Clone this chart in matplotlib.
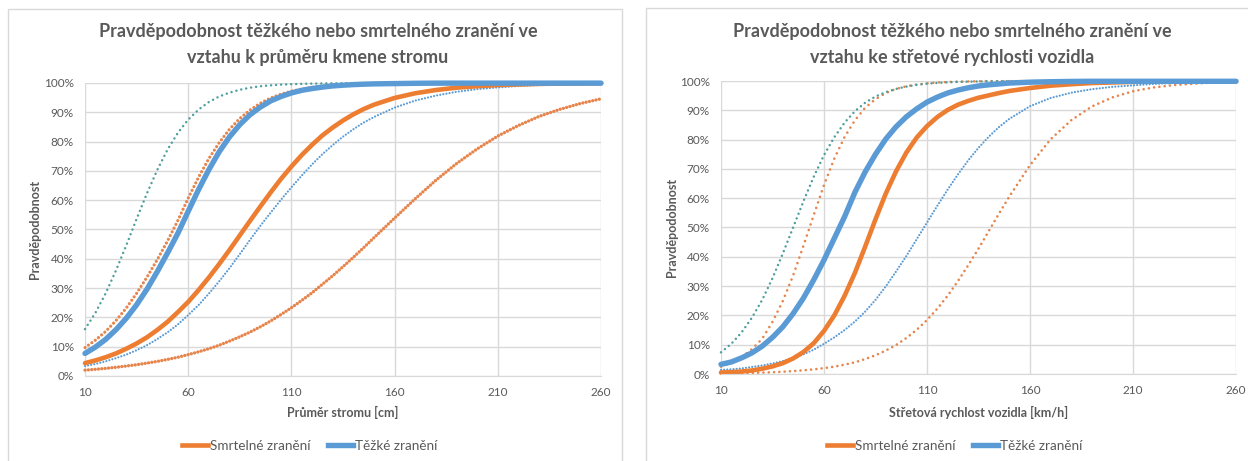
import matplotlib
matplotlib.use("Agg")
import matplotlib.pyplot as plt
from matplotlib.lines import Line2D
from matplotlib.patches import Rectangle
from matplotlib.ticker import FuncFormatter

# ---------------------------------------------------------------- data
# x positions of the sampled points (finer where the curves bend)
diameter_cm = [10, 15, 20, 25, 30, 35, 40, 45, 50, 55, 60, 65, 70, 75, 80, 85,
               90, 95, 100, 105, 110, 115, 120, 125, 130, 135, 140, 145, 150,
               160, 170, 180, 190, 200, 210, 220, 230, 240, 250, 260]
speed_kmh = [10, 15, 20, 25, 30, 35, 40, 45, 50, 55, 60, 65, 70, 75, 80, 85,
             90, 95, 100, 105, 110, 115, 120, 125, 130, 135, 140, 145, 150,
             160, 170, 180, 190, 200, 210, 220, 230, 240, 250, 260]

# probability [%] versus tree diameter
tree_fatal = [4.4, 5.3, 6.4, 7.7, 9.3, 11.1, 13.2, 15.7, 18.5, 21.8, 25.3, 29.3, 33.6,
              38.2, 43.0, 48.0, 53.0, 57.9, 62.7, 67.3, 71.5, 75.4, 78.9, 82.1, 84.8,
              87.2, 89.3, 91.1, 92.6,
              94.9, 96.5, 97.6, 98.4, 98.9, 99.3, 99.5, 99.7, 99.8, 99.85, 99.9]
tree_fatal_hi = [9.7, 12.2, 15.2, 18.9, 23.2, 28.2, 33.7, 39.7, 46.1, 53.1, 60.7, 67.8,
                 74.2, 79.6, 84.2, 87.9, 90.8, 93.1, 94.9, 96.2, 97.2, 97.9, 98.5, 98.9,
                 99.2, 99.4, 99.55, 99.65, 99.75,
                 99.85, 99.9, 99.95, 99.95, 99.95, 99.95, 99.95, 99.95, 99.95, 99.95, 99.95]
tree_fatal_lo = [2.0, 2.28, 2.6, 2.97, 3.4, 3.85, 4.4, 4.98, 5.66, 6.4, 7.3, 8.25, 9.3,
                 10.5, 11.9, 13.4, 15.0, 16.8, 18.8, 21.0, 23.3, 25.8, 28.4, 31.3, 34.2,
                 37.3, 40.5, 43.8, 47.2,
                 53.9, 60.5, 66.8, 72.5, 77.5, 81.9, 85.5, 88.6, 91.0, 93.0, 94.6]
tree_severe = [7.7, 9.85, 12.5, 15.8, 19.7, 24.3, 29.6, 35.6, 42.0, 48.7, 56.2, 63.6, 70.4,
               76.5, 81.6, 85.8, 89.2, 91.8, 93.9, 95.4, 96.6, 97.5, 98.1, 98.6, 99.0,
               99.25, 99.45, 99.6, 99.7,
               99.8, 99.9, 99.95, 99.95, 99.95, 99.95, 99.95, 99.95, 99.95, 99.95, 99.95]
tree_severe_hi = [16.0, 21.5, 28.2, 36.0, 44.6, 53.6, 62.3, 70.3, 77.3, 83.0, 87.5, 90.9,
                  93.5, 95.4, 96.7, 97.7, 98.4, 98.9, 99.2, 99.45, 99.6, 99.7, 99.8, 99.85,
                  99.9, 99.92, 99.94, 99.95, 99.95,
                  99.95, 99.95, 99.95, 99.95, 99.95, 99.95, 99.95, 99.95, 99.95, 99.95, 99.95]
tree_severe_lo = [3.4, 4.1, 5.0, 6.1, 7.3, 8.8, 10.5, 12.6, 14.9, 17.6, 20.8, 24.2, 28.1,
                  32.3, 36.8, 41.6, 46.5, 51.3, 55.8, 60.2, 64.4, 68.4, 72.2, 75.7, 78.8,
                  81.7, 84.2, 86.5, 88.4,
                  91.6, 94.0, 95.7, 97.0, 97.9, 98.5, 98.96, 99.3, 99.5, 99.6, 99.7]

# probability [%] versus impact speed
speed_fatal = [0.5, 0.6, 0.85, 1.2, 1.8, 2.6, 3.7, 5.3, 7.5, 10.5, 14.7, 20.0, 26.7, 34.5,
               43.5, 52.8, 61.6, 69.2, 75.6, 80.7, 84.6, 87.7, 90.1, 91.9, 93.2, 94.3, 95.1,
               95.9, 96.6,
               97.6, 98.4, 98.9, 99.3, 99.5, 99.7, 99.8, 99.85, 99.9, 99.9, 99.9]
speed_fatal_hi = [2.5, 3.8, 5.7, 8.5, 12.0, 17.8, 24.9, 33.6, 43.7, 54.2, 64.5, 73.5, 80.9,
                  86.6, 90.9, 93.8, 95.9, 97.3, 98.2, 98.8, 99.2, 99.5, 99.65, 99.77, 99.85,
                  99.9, 99.95, 99.95, 99.95,
                  99.95, 99.95, 99.95, 99.95, 99.95, 99.95, 99.95, 99.95, 99.95, 99.95, 99.95]
speed_fatal_lo = [0.19, 0.24, 0.30, 0.38, 0.48, 0.61, 0.78, 0.99, 1.25, 1.59, 2.0, 2.5, 3.2,
                  4.0, 5.1, 6.4, 8.0, 9.9, 12.3, 15.1, 18.4, 22.3, 26.7, 31.7, 37.1, 42.8,
                  48.8, 54.8, 60.6,
                  71.3, 80.1, 86.6, 91.3, 94.4, 96.5, 97.8, 98.6, 99.1, 99.5, 99.7]
speed_severe = [3.3, 4.1, 5.5, 7.2, 9.5, 12.5, 16.1, 20.6, 25.9, 32.1, 38.9, 46.3, 53.7,
                62.0, 69.0, 75.0, 80.2, 84.4, 87.8, 90.5, 92.8, 94.5, 95.9, 96.9, 97.7, 98.3,
                98.7, 99.0, 99.3,
                99.6, 99.75, 99.85, 99.9, 99.9, 99.9, 99.9, 99.9, 99.9, 99.9, 99.9]
speed_severe_hi = [7.4, 10.3, 14.2, 19.2, 25.3, 32.7, 41.1, 50.0, 58.9, 67.3, 74.7, 80.8,
                   85.8, 89.7, 92.6, 94.7, 96.2, 97.3, 98.1, 98.7, 99.1, 99.35, 99.55, 99.7,
                   99.78, 99.85, 99.9, 99.92, 99.95,
                   99.95, 99.95, 99.95, 99.95, 99.95, 99.95, 99.95, 99.95, 99.95, 99.95, 99.95]
speed_severe_lo = [1.4, 1.6, 1.9, 2.4, 2.9, 3.6, 4.4, 5.4, 6.7, 8.3, 10.3, 12.5, 15.0, 17.9,
                   21.3, 25.3, 29.9, 35.0, 40.3, 46.0, 51.7, 57.4, 62.9, 68.1, 72.9, 77.2,
                   81.0, 84.3, 87.1,
                   91.4, 94.2, 96.0, 97.2, 98.0, 98.5, 99.0, 99.3, 99.5, 99.6, 99.7]

x_ticks = [10, 60, 110, 160, 210, 260]
y_ticks = [0, 10, 20, 30, 40, 50, 60, 70, 80, 90, 100]

legend_labels = ["Smrtelné zranění", "Těžké zranění"]
titles = [("Pravděpodobnost těžkého nebo smrtelného zranění ve",
           "vztahu k průměru kmene stromu"),
          ("Pravděpodobnost těžkého nebo smrtelného zranění ve",
           "vztahu ke střetové rychlosti vozidla")]
x_labels = ["Průměr stromu [cm]", "Střetová rychlost vozidla [km/h]"]
y_label = "Pravděpodobnost"

# ---------------------------------------------------------------- style
ORANGE = "#ED7D31"
ORANGE_DOT = "#E6844B"
BLUE = "#5B9BD5"
TEAL = "#4E9F9E"
GRID = "#D9D9D9"
TEXT = "#595959"
FONT = ["Lato", "DejaVu Sans"]

plt.rcParams["font.family"] = FONT

W, H = 1248, 461
fig = plt.figure(figsize=(W / 100, H / 100), dpi=100)
fig.patch.set_facecolor("white")


def fx(px):
    return px / W


def fy(py):
    return 1 - py / H


# chart frames
fig.patches.append(Rectangle((fx(8), fy(470)), fx(614), (470 - 9) / H,
                             transform=fig.transFigure, fill=False,
                             edgecolor=GRID, lw=1.0))
fig.patches.append(Rectangle((fx(646), fy(470)), fx(620), (470 - 8) / H,
                             transform=fig.transFigure, fill=False,
                             edgecolor=GRID, lw=1.0))

panels = [
    dict(rect=(85, 83, 601, 376), x=diameter_cm,
         fatal=tree_fatal, fatal_hi=tree_fatal_hi, fatal_lo=tree_fatal_lo,
         severe=tree_severe, severe_hi=tree_severe_hi, severe_lo=tree_severe_lo,
         title_cx=318, ylab_x=35, legend_cx=310, dense_lo=True),
    dict(rect=(721, 81, 1236, 374), x=speed_kmh,
         fatal=speed_fatal, fatal_hi=speed_fatal_hi, fatal_lo=speed_fatal_lo,
         severe=speed_severe, severe_hi=speed_severe_hi, severe_lo=speed_severe_lo,
         title_cx=952, ylab_x=672, legend_cx=955, dense_lo=False),
]

dot = dict(solid_capstyle="round", dash_capstyle="round")

for i, p in enumerate(panels):
    x0, y0, x1, y1 = p["rect"]
    ax = fig.add_axes([fx(x0), fy(y1), fx(x1 - x0), (y1 - y0) / H])
    ax.set_xlim(10, 260)
    ax.set_ylim(0, 100)
    ax.set_xticks(x_ticks)
    ax.set_yticks(y_ticks)
    ax.yaxis.set_major_formatter(FuncFormatter(lambda v, _: f"{v:.0f}%"))
    ax.grid(True, color=GRID, lw=1.0)
    ax.set_axisbelow(True)
    for s in ("top", "right", "left"):
        ax.spines[s].set_visible(False)
    ax.spines["bottom"].set_color(GRID)
    ax.tick_params(length=0, labelsize=8.5, labelcolor=TEXT, pad=8)

    xs = p["x"]
    if p["dense_lo"]:
        ax.plot(xs, p["fatal_lo"], color=ORANGE_DOT, lw=2.4,
                ls=(0, (0.01, 1.0)), clip_on=False, **dot)
        ax.plot(xs, p["fatal_hi"], color=ORANGE_DOT, lw=2.3,
                ls=(0, (0.01, 1.3)), clip_on=False, **dot)
    else:
        ax.plot(xs, p["fatal_lo"], color=ORANGE_DOT, lw=1.9,
                ls=(0, (0.01, 2.0)), clip_on=False, **dot)
        ax.plot(xs, p["fatal_hi"], color=ORANGE_DOT, lw=1.9,
                ls=(0, (0.01, 2.2)), clip_on=False, **dot)
    ax.plot(xs, p["severe_lo"], color=BLUE, lw=1.6, ls=(0, (0.01, 1.4)),
            clip_on=False, **dot)
    ax.plot(xs, p["severe_hi"], color=TEAL, lw=1.8, ls=(0, (0.01, 2.0)),
            clip_on=False, **dot)
    ax.plot(xs, p["fatal"], color=ORANGE, lw=3.3, solid_capstyle="round",
            solid_joinstyle="round", clip_on=False)
    ax.plot(xs, p["severe"], color=BLUE, lw=3.9, solid_capstyle="round",
            solid_joinstyle="round", clip_on=False)

    # titles and axis captions
    t1, t2 = titles[i]
    fig.text(fx(p["title_cx"]), fy(31), t1, ha="center", va="center",
             fontsize=13, fontweight="bold", color=TEXT)
    fig.text(fx(p["title_cx"]), fy(57), t2, ha="center", va="center",
             fontsize=13, fontweight="bold", color=TEXT)
    fig.text(fx((x0 + x1) / 2), fy(412), x_labels[i], ha="center", va="center",
             fontsize=9, fontweight="bold", color=TEXT)
    fig.text(fx(p["ylab_x"]), fy((y0 + y1) / 2), y_label, ha="center",
             va="center", rotation=90, fontsize=9, fontweight="bold", color=TEXT)

    handles = [Line2D([], [], color=ORANGE, lw=3.3),
               Line2D([], [], color=BLUE, lw=3.9)]
    leg = ax.legend(handles, legend_labels, loc="center",
                    bbox_to_anchor=(fx(p["legend_cx"]), fy(446)),
                    bbox_transform=fig.transFigure, ncol=2, frameon=False,
                    fontsize=9.7, handlelength=1.9, handletextpad=0.15,
                    columnspacing=1.3)
    for t in leg.get_texts():
        t.set_color(TEXT)

fig.savefig("out.png", dpi=100, facecolor="white")
